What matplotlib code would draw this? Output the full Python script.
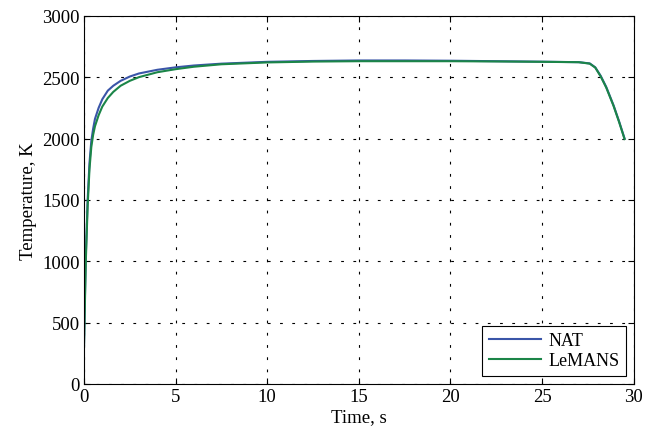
import matplotlib
matplotlib.use("Agg")
import matplotlib.pyplot as plt

# Time (s) and temperature (K)
time_s = [0, 0.05, 0.1, 0.2, 0.3, 0.4, 0.5, 0.6, 0.8, 1.0, 1.3, 1.6, 2.0, 2.5, 3.0,
          4.0, 5.0, 6.0, 7.5, 10, 12.5, 15, 17.5, 20, 22.5, 25, 27, 27.6, 27.9,
          28.2, 28.5, 28.9, 29.2, 29.5]
nat_temp = [300, 700, 1050, 1500, 1800, 1980, 2080, 2160, 2250, 2320, 2390, 2430,
            2470, 2505, 2530, 2560, 2580, 2595, 2610, 2625, 2632, 2636, 2636, 2634,
            2630, 2626, 2622, 2612, 2580, 2510, 2420, 2270, 2140, 2000]
lemans_temp = [300, 650, 1000, 1450, 1750, 1930, 2030, 2100, 2190, 2260, 2330, 2380,
               2430, 2470, 2500, 2540, 2565, 2585, 2605, 2620, 2627, 2630, 2630, 2630,
               2628, 2625, 2622, 2610, 2578, 2505, 2415, 2265, 2135, 1995]

plt.rcParams["font.family"] = "Liberation Serif"
plt.rcParams["font.size"] = 13.5

fig = plt.figure(figsize=(6.46, 4.31), dpi=100)
ax = fig.add_axes([0.130, 0.107, 0.851, 0.854])

ax.plot(time_s, nat_temp, color="#3a55a8", lw=1.5, label="NAT")
ax.plot(time_s, lemans_temp, color="#1b8548", lw=1.5, label="LeMANS")

ax.set_xlim(0, 30)
ax.set_ylim(0, 3000)
ax.set_xticks(range(0, 31, 5))
ax.set_yticks(range(0, 3001, 500))
ax.tick_params(direction="in", top=True, right=True, length=4, pad=3)
ax.grid(True, color="black", linestyle=(0, (2.5, 8.5)), linewidth=0.8)
ax.set_xlabel("Time, s", labelpad=2)
ax.set_ylabel("Temperature, K", labelpad=4)
for s in ax.spines.values():
    s.set_linewidth(0.8)

leg = ax.legend(loc="lower right", fancybox=False, framealpha=1, fontsize=13,
                edgecolor="black", borderaxespad=0.45, handlelength=2.9,
                borderpad=0.35, labelspacing=0.2, handletextpad=0.4)
leg._legend_box.align = "left"
leg.get_frame().set_linewidth(0.8)

fig.savefig("out.png", dpi=100)
